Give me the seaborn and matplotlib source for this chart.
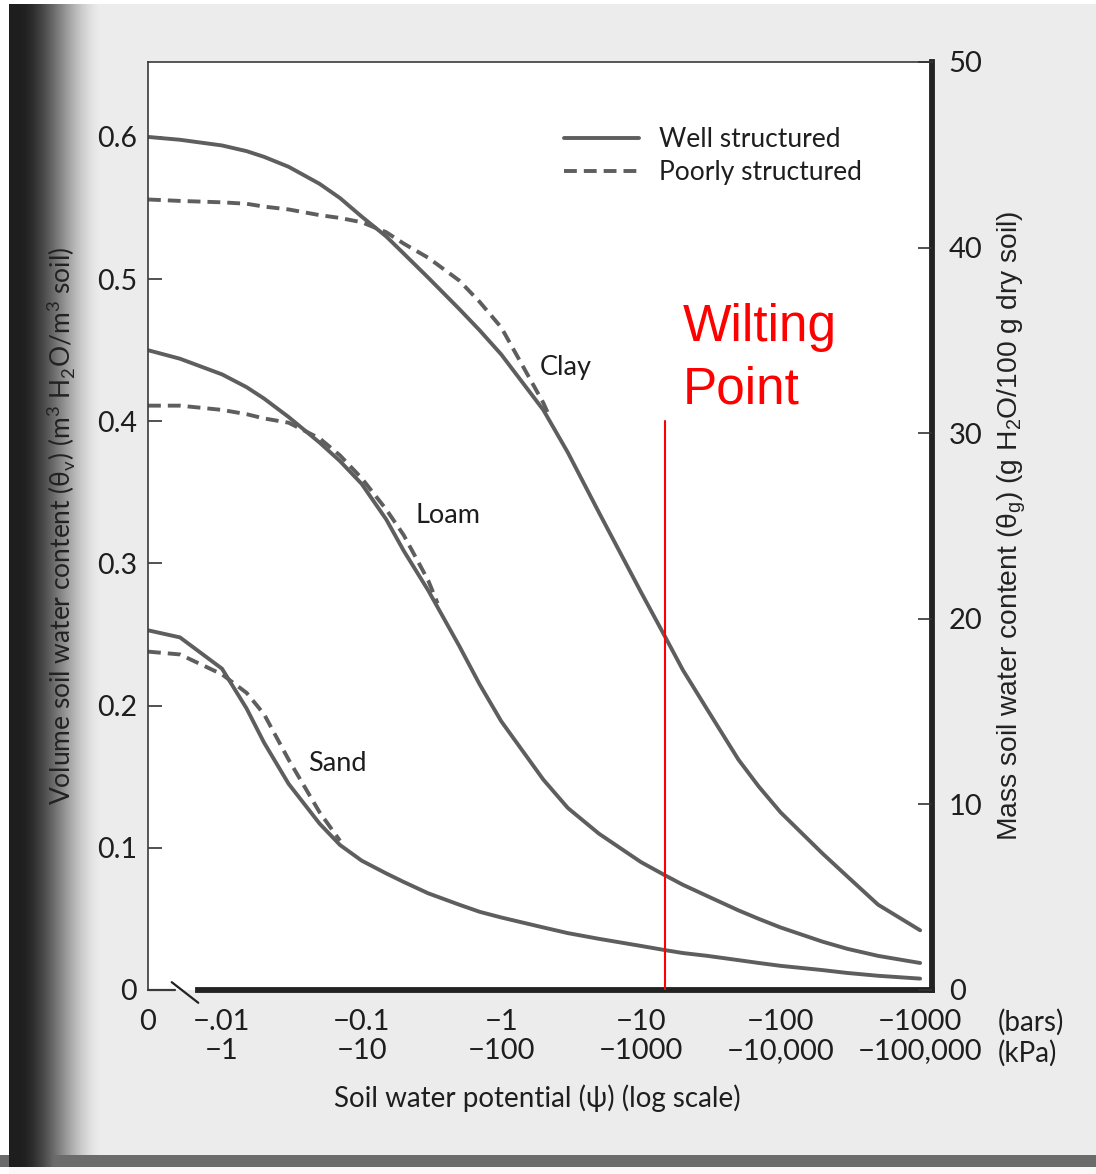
import numpy as np
import pandas as pd
import seaborn as sns
import matplotlib.pyplot as plt
from matplotlib.lines import Line2D

# soil water potential (bars) at which the curves were read; 0 sits left of the axis break
psi_well = [0, -0.005, -0.01, -0.015, -0.02, -0.03, -0.05, -0.07, -0.1, -0.15, -0.2, -0.3,
            -0.5, -0.7, -1, -2, -3, -5, -10, -15, -20, -30, -50, -70, -100, -200, -300,
            -500, -1000]
clay_well = [0.600, 0.598, 0.594, 0.590, 0.586, 0.579, 0.567, 0.557, 0.544, 0.530, 0.518, 0.501,
             0.479, 0.464, 0.447, 0.408, 0.378, 0.336, 0.280, 0.248, 0.225, 0.197, 0.162, 0.143,
             0.125, 0.096, 0.080, 0.060, 0.042]
loam_well = [0.450, 0.444, 0.433, 0.424, 0.416, 0.403, 0.385, 0.372, 0.356, 0.331, 0.309, 0.281,
             0.242, 0.215, 0.189, 0.148, 0.128, 0.110, 0.090, 0.0805, 0.074, 0.066, 0.056, 0.050,
             0.044, 0.034, 0.029, 0.024, 0.019]
sand_well = [0.253, 0.248, 0.226, 0.198, 0.174, 0.145, 0.117, 0.102, 0.091, 0.082, 0.076, 0.068,
             0.060, 0.055, 0.051, 0.044, 0.040, 0.036, 0.031, 0.028, 0.026, 0.024, 0.021, 0.019,
             0.017, 0.014, 0.012, 0.010, 0.008]

psi_clay_poor = [0, -0.005, -0.01, -0.015, -0.02, -0.03, -0.05, -0.07, -0.1, -0.15, -0.2, -0.3,
                 -0.5, -0.7, -1, -2, -2.2]
clay_poor = [0.556, 0.555, 0.554, 0.553, 0.551, 0.549, 0.545, 0.543, 0.540, 0.533, 0.525, 0.515,
             0.499, 0.484, 0.466, 0.413, 0.404]
psi_loam_poor = [0, -0.005, -0.01, -0.015, -0.02, -0.03, -0.05, -0.07, -0.1, -0.15, -0.2, -0.3,
                 -0.35]
loam_poor = [0.411, 0.411, 0.408, 0.405, 0.402, 0.399, 0.388, 0.376, 0.360, 0.338, 0.320, 0.288,
             0.272]
psi_sand_poor = [0, -0.005, -0.01, -0.015, -0.02, -0.03, -0.05, -0.07]
sand_poor = [0.238, 0.236, 0.222, 0.209, 0.194, 0.162, 0.125, 0.105]

wilting_psi = -15  # bars

bar_ticks = [-0.01, -0.1, -1, -10, -100, -1000]
bar_labels = ["\u2212.01", "\u22120.1", "\u22121", "\u221210", "\u2212100", "\u22121000"]
kpa_labels = ["\u22121", "\u221210", "\u2212100", "\u22121000", "\u221210,000", "\u2212100,000"]

ZERO_POS = -2.53   # where "0" is drawn, left of the break


def to_pos(psi):
    psi = np.asarray(psi, dtype=float)
    out = np.full(psi.shape, ZERO_POS)
    nz = psi != 0
    out[nz] = np.log10(-psi[nz])
    return out


series = [
    ("Clay", "Well structured", psi_well, clay_well),
    ("Loam", "Well structured", psi_well, loam_well),
    ("Sand", "Well structured", psi_well, sand_well),
    ("Clay", "Poorly structured", psi_clay_poor, clay_poor),
    ("Loam", "Poorly structured", psi_loam_poor, loam_poor),
    ("Sand", "Poorly structured", psi_sand_poor, sand_poor),
]
frames = []
for soil, struct, psi, theta in series:
    frames.append(pd.DataFrame({"pos": to_pos(psi), "theta": theta,
                                "structure": struct, "curve": soil + " " + struct}))
df = pd.concat(frames, ignore_index=True)

sns.set_style("white")
plt.rcParams["font.family"] = ["Lato", "DejaVu Sans"]

W, H = 1096, 1174
fig = plt.figure(figsize=(W / 100, H / 100), dpi=100)

# scanned page look: grey paper, spine shadow on the left, dark band at the bottom
cols = np.arange(W)
shade = np.clip((cols - 18) / 85.0, 0, 1)
shade = 0.12 + (0.925 - 0.12) * (3 * shade ** 2 - 2 * shade ** 3)
img = np.tile(shade, (H, 1))
img[:, :9] = 1.0
img[:4, :] = 1.0
img[1155:1167, :] = np.minimum(img[1155:1167, :], 0.42)
img[1167:, 9:] = 0.97
bg = fig.add_axes([0, 0, 1, 1], zorder=-10)
bg.imshow(img, cmap="gray", vmin=0, vmax=1, aspect="auto", extent=[0, 1, 0, 1])
bg.axis("off")

left, right, top, bottom = 148, 932, 62, 990
ax = fig.add_axes([left / W, 1 - bottom / H, (right - left) / W, (bottom - top) / H])
ax.set_facecolor("white")

curve_color = "#5e5e5e"
lw = 2.8
sns.lineplot(data=df, x="pos", y="theta", units="curve", style="structure",
             style_order=["Well structured", "Poorly structured"],
             dashes={"Well structured": "", "Poorly structured": (3.3, 1.8)},
             estimator=None, sort=False, color=curve_color, linewidth=lw,
             legend=False, ax=ax)

ax.set_xlim(ZERO_POS, 3.085)
ax.set_ylim(0, 0.6527)

# wilting point
wx = np.log10(-wilting_psi)
ax.plot([wx, wx], [0, 0.40], color="red", lw=1.5, zorder=5)
ax.text(0.682, 0.6994, "Wilting", transform=ax.transAxes, color="red",
        fontsize=37, family="Liberation Sans", va="baseline", ha="left")
ax.text(0.682, 0.6315, "Point", transform=ax.transAxes, color="red",
        fontsize=37, family="Liberation Sans", va="baseline", ha="left")

# curve names
txt_color = "#1e1e1e"
ax.text(0.278, 0.4375, "Clay", fontsize=19.5, va="center", ha="left", color=txt_color)
ax.text(-0.617, 0.3334, "Loam", fontsize=19.5, va="center", ha="left", color=txt_color)
ax.text(-1.384, 0.159, "Sand", fontsize=19.5, va="center", ha="left", color=txt_color)

# legend
handles = [Line2D([], [], color=curve_color, lw=lw),
           Line2D([], [], color=curve_color, lw=lw, ls=(0, (3.3, 1.8)))]
leg = ax.legend(handles, ["Well structured", "Poorly structured"], loc="upper left",
                bbox_to_anchor=((564 - left) / (right - left), (bottom - 127) / (bottom - top)),
                frameon=False, handlelength=2.85, handletextpad=0.75, labelspacing=0.3,
                fontsize=19, borderpad=0, borderaxespad=0)
for t in leg.get_texts():
    t.set_color(txt_color)

# spines
for s in ["left", "top"]:
    ax.spines[s].set_linewidth(1.2)
    ax.spines[s].set_color("#3a3a3a")
ax.spines["right"].set_linewidth(4.2)
ax.spines["right"].set_color("#222222")
ax.spines["bottom"].set_linewidth(4.2)
ax.spines["bottom"].set_color("#222222")
ax.spines["bottom"].set_bounds(-2.172, 3.085)
ax.plot([ZERO_POS, -2.34], [0, 0], color="#3a3a3a", lw=1.6, clip_on=False)
ax.plot([-2.36, -2.17], [0.0055, -0.009], color="#222222", lw=1.6, clip_on=False)

# y axes
ax.set_yticks([0, 0.1, 0.2, 0.3, 0.4, 0.5, 0.6])
ax.set_yticklabels(["0", "0.1", "0.2", "0.3", "0.4", "0.5", "0.6"])
ax.tick_params(axis="y", direction="in", length=10, width=1.2, pad=8,
               labelsize=20.5, labelcolor=txt_color, color="#333333")
ax.set_ylabel("Volume soil water content (\u03b8$_\\mathregular{v}$) "
              "(m$^\\mathregular{3}$ H$_\\mathregular{2}$O/m$^\\mathregular{3}$ soil)",
              fontsize=19, color="#222222")
ax.yaxis.set_label_coords(-0.112, 0.5)
ax.yaxis.label.set_va("center")

ax2 = ax.twinx()
ax2.set_ylim(0, 50)
ax2.set_yticks([0, 10, 20, 30, 40, 50])
for s in ax2.spines.values():
    s.set_visible(False)
ax2.tick_params(axis="y", direction="in", length=10, width=1.2, pad=12,
                labelsize=21, labelcolor=txt_color, color="#333333")
ax2.set_ylabel("Mass soil water content (\u03b8$_\\mathregular{g}$) "
               "(g H$_\\mathregular{2}$O/100 g dry soil)",
               fontsize=20.3, color="#222222", family="Liberation Sans", rotation=90)
ax2.yaxis.set_label_coords(1.102, 0.5)
ax2.yaxis.label.set_va("center")

# x axis: two rows of labels (bars / kPa)
xt = [ZERO_POS] + list(np.log10(-np.array(bar_ticks)))
xl = ["0\n "] + [b + "\n" + k for b, k in zip(bar_labels, kpa_labels)]
ax.set_xticks(xt)
ax.set_xticklabels(xl)
ax.tick_params(axis="x", direction="in", length=10, width=1.2, pad=14,
               labelsize=21, labelcolor=txt_color, color="#333333")
for t in ax.get_xticklabels():
    t.set_linespacing(1.12)
ax.xaxis.get_major_ticks()[0].tick1line.set_visible(False)

ax.text((998 - left) / (right - left), (bottom - 1022) / (bottom - top), "(bars)",
        transform=ax.transAxes, fontsize=20, va="center", ha="left", color=txt_color)
ax.text((998 - left) / (right - left), (bottom - 1053) / (bottom - top), "(kPa)",
        transform=ax.transAxes, fontsize=20, va="center", ha="left", color=txt_color)

ax.set_xlabel("Soil water potential (\u03c8) (log scale)", fontsize=20, color=txt_color)
ax.xaxis.set_label_coords((537 - left) / (right - left), (bottom - 1098) / (bottom - top))
ax.xaxis.label.set_va("center")

fig.savefig("out.png", dpi=100)
